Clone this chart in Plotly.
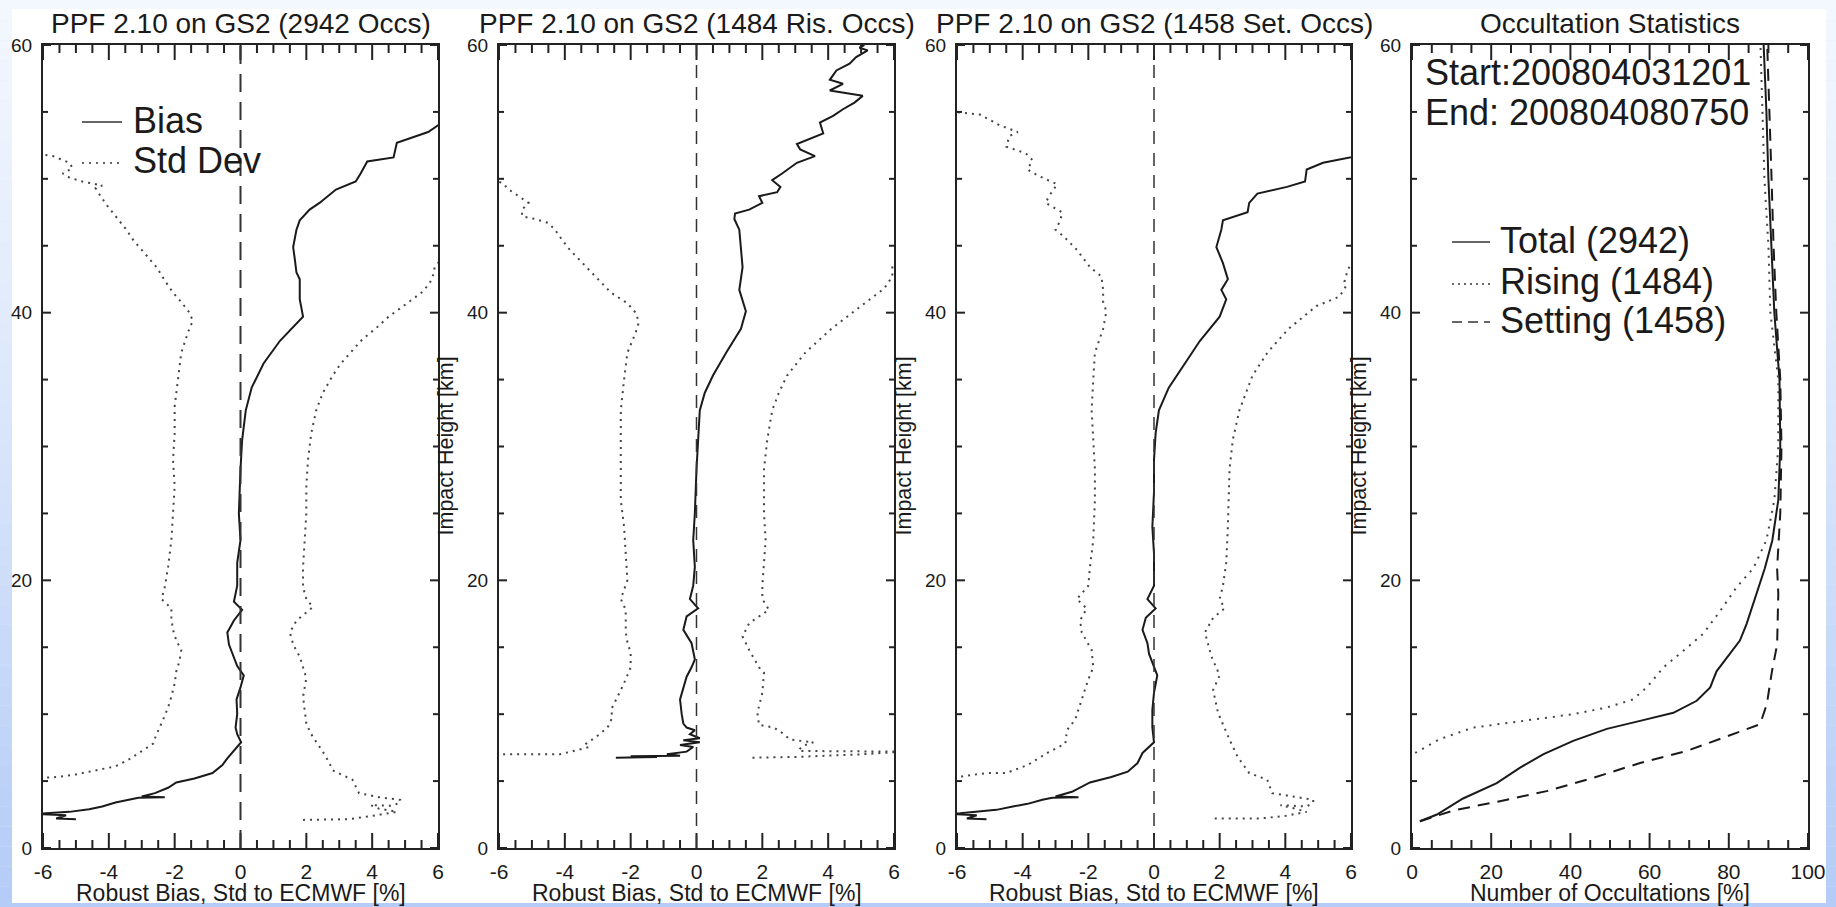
import plotly.graph_objects as go

# ---------------- data ----------------
# Panel 1: all occultations
h_bias_all = [2.15, 2.2, 2.45, 2.55, 2.6, 2.7, 2.9, 3.1, 3.4, 3.6, 3.75, 3.8, 3.85, 4.1, 4.5, 4.9, 5.2, 5.6, 6.2, 6.7, 7.2, 7.9, 8.5, 9.0, 10.0, 11.1, 12.0, 12.9, 13.6, 14.3, 15.2, 16.1, 17.0, 17.8, 18.4, 19.6, 21.3, 23.0, 25.0, 28.3, 30.5, 32.7, 34.4, 36.2, 37.9, 39.7, 40.5, 41.0, 42.5, 43.0, 44.0, 44.9, 46.2, 46.9, 47.7, 48.2, 49.2, 49.8, 50.4, 51.3, 51.6, 52.2, 52.7, 53.5, 54.0, 54.3]
bias_all = [-5.0, -5.6, -5.3, -6.2, -5.9, -5.2, -4.6, -4.2, -3.8, -3.4, -3.1, -2.3, -3.0, -2.6, -2.2, -1.95, -1.4, -0.85, -0.55, -0.4, -0.22, 0.02, -0.1, -0.15, -0.1, -0.12, 0.0, 0.1, -0.1, -0.2, -0.35, -0.4, -0.2, 0.05, -0.2, -0.1, -0.1, 0.0, -0.05, 0.0, 0.05, 0.16, 0.34, 0.7, 1.2, 1.9, 1.85, 1.8, 1.8, 1.7, 1.65, 1.6, 1.7, 1.8, 2.1, 2.4, 2.9, 3.5, 3.65, 3.85, 4.65, 4.7, 4.75, 5.7, 6.0, 6.3]
h_sdlo_all = [5.2, 5.3, 5.5, 5.7, 6.1, 6.6, 7.0, 7.5, 7.8, 8.2, 9.0, 9.6, 10.5, 11.3, 12.3, 13.2, 14.0, 14.8, 15.5, 16.3, 17.1, 17.9, 18.6, 19.5, 21.0, 23.0, 25.0, 27.0, 29.0, 31.0, 33.0, 35.0, 37.0, 38.5, 39.4, 40.0, 40.8, 41.5, 42.4, 43.4, 44.4, 45.4, 46.3, 47.2, 48.0, 48.7, 49.3, 49.5, 49.8, 50.1, 50.4, 50.8, 51.2, 51.7, 51.8, 51.9]
sdlo_all = [-6.3, -5.6, -5.0, -4.6, -3.8, -3.4, -3.15, -2.8, -2.65, -2.6, -2.45, -2.35, -2.2, -2.1, -2.0, -1.95, -1.85, -1.8, -1.95, -2.05, -2.1, -2.1, -2.4, -2.3, -2.2, -2.1, -2.05, -2.0, -2.05, -2.0, -2.0, -1.9, -1.8, -1.6, -1.45, -1.55, -1.8, -2.05, -2.3, -2.55, -2.9, -3.25, -3.5, -3.8, -4.05, -4.25, -4.4, -4.2, -4.8, -5.2, -5.4, -5.1, -5.2, -5.7, -6.0, -6.3]
h_sdhi_all = [2.1, 2.1, 2.15, 2.4, 2.7, 2.95, 3.2, 3.15, 3.4, 3.6, 3.8, 4.1, 4.6, 5.1, 5.8, 6.35, 7.0, 7.55, 8.5, 9.3, 10.3, 11.3, 12.7, 13.5, 14.3, 15.2, 16.1, 17.0, 18.0, 18.6, 19.5, 21.0, 23.0, 25.0, 27.0, 29.0, 31.0, 32.7, 34.0, 35.3, 36.2, 37.0, 38.0, 38.8, 39.7, 40.5, 41.5, 42.2, 42.8, 43.4, 44.0]
sdhi_all = [1.9, 2.6, 3.3, 4.0, 4.75, 4.2, 3.95, 4.6, 4.85, 4.85, 4.2, 3.6, 3.5, 3.4, 2.8, 2.7, 2.55, 2.4, 2.15, 2.0, 1.95, 1.9, 2.0, 1.9, 1.8, 1.6, 1.5, 1.7, 2.2, 2.0, 1.9, 1.9, 1.95, 2.0, 2.0, 2.05, 2.15, 2.3, 2.5, 2.8, 3.05, 3.35, 3.7, 4.1, 4.5, 4.95, 5.5, 5.75, 5.85, 5.9, 6.1]

# Panel 2: rising occultations
h_bias_ris = [6.75, 6.8, 6.85, 6.9, 7.0, 7.2, 7.55, 7.7, 7.9, 8.05, 8.2, 8.5, 8.8, 9.0, 9.3, 10.0, 11.1, 12.0, 12.8, 13.5, 14.1, 14.7, 15.3, 16.3, 17.3, 17.9, 18.6, 19.6, 21.0, 23.0, 25.0, 28.3, 30.5, 32.7, 34.0, 35.3, 37.0, 38.8, 40.1, 41.7, 43.4, 45.0, 46.2, 47.0, 47.4, 47.7, 48.2, 48.7, 49.0, 49.4, 49.9, 50.4, 51.2, 51.7, 52.2, 52.6, 53.4, 54.2, 54.7, 55.2, 55.7, 56.2, 56.6, 57.1, 57.4, 58.1, 58.6, 59.1, 59.6, 59.8, 60.0]
bias_ris = [-2.45, -1.2, -2.0, -0.5, -0.9, -0.3, -0.1, -0.5, 0.1, -0.4, 0.1, -0.2, -0.05, -0.3, -0.4, -0.45, -0.5, -0.4, -0.3, -0.15, -0.05, -0.1, -0.15, -0.4, -0.3, 0.05, -0.2, -0.1, -0.05, -0.1, -0.05, 0.0, 0.05, 0.1, 0.25, 0.5, 0.9, 1.35, 1.5, 1.3, 1.4, 1.35, 1.3, 1.15, 1.17, 1.6, 2.0, 1.9, 2.45, 2.55, 2.3, 2.6, 3.05, 3.6, 3.15, 3.05, 3.85, 3.75, 4.15, 4.45, 4.8, 5.05, 4.05, 4.45, 4.05, 4.25, 4.65, 4.85, 5.2, 4.95, 5.1]
h_sdlo_ris = [7.0, 7.0, 7.15, 7.3, 7.55, 7.8, 8.3, 9.0, 9.8, 10.3, 11.0, 11.8, 12.6, 13.5, 14.6, 15.4, 16.1, 17.0, 17.8, 18.6, 20.0, 22.0, 24.0, 26.0, 28.3, 30.5, 32.7, 35.0, 37.0, 38.5, 39.3, 40.0, 40.7, 41.5, 42.5, 43.4, 44.7, 45.5, 46.2, 46.7, 47.0, 47.2, 47.7, 48.2, 48.7, 49.2, 49.7, 49.9]
sdlo_ris = [-6.3, -4.15, -3.9, -3.65, -3.25, -3.35, -3.05, -2.7, -2.55, -2.6, -2.45, -2.3, -2.15, -2.0, -2.0, -2.1, -2.15, -2.15, -2.15, -2.3, -2.1, -2.15, -2.2, -2.3, -2.3, -2.3, -2.3, -2.2, -2.1, -1.85, -1.75, -1.85, -2.1, -2.6, -3.0, -3.35, -3.85, -4.1, -4.3, -4.5, -4.9, -5.3, -5.3, -5.1, -5.4, -5.7, -5.9, -6.2]
h_sdhi_ris = [6.75, 6.8, 7.0, 7.15, 7.2, 7.25, 7.6, 7.9, 8.1, 8.6, 9.0, 9.2, 10.1, 11.6, 13.1, 13.5, 14.8, 15.8, 16.8, 17.8, 18.6, 19.6, 21.0, 23.0, 25.0, 28.3, 30.5, 32.7, 34.0, 35.3, 37.0, 38.8, 40.5, 41.8, 42.7, 43.4, 44.0]
sdhi_ris = [1.7, 3.0, 5.0, 6.3, 6.3, 3.1, 3.2, 3.55, 2.85, 2.6, 2.35, 1.9, 1.85, 2.0, 2.05, 1.9, 1.6, 1.4, 1.6, 2.2, 2.0, 2.0, 2.05, 2.1, 2.05, 2.05, 2.15, 2.3, 2.5, 2.75, 3.3, 4.1, 5.0, 5.7, 5.95, 5.95, 6.1]

# Panel 3: setting occultations
h_bias_set = [2.15, 2.2, 2.45, 2.55, 2.6, 2.85, 3.1, 3.3, 3.6, 3.75, 3.8, 3.85, 4.2, 4.9, 5.3, 5.7, 6.35, 7.1, 7.9, 9.0, 10.3, 11.6, 12.9, 13.8, 14.5, 15.3, 16.3, 17.2, 17.9, 18.6, 19.6, 22.0, 24.0, 26.6, 29.0, 31.0, 32.7, 34.4, 36.2, 37.9, 39.7, 41.0, 41.7, 42.5, 43.7, 44.9, 46.2, 46.9, 47.5, 48.2, 48.9, 49.4, 49.8, 50.7, 51.2, 51.6, 51.8]
bias_set = [-5.1, -5.7, -5.4, -6.2, -5.9, -4.8, -4.3, -3.85, -3.4, -3.1, -2.3, -3.0, -2.5, -1.95, -1.3, -0.8, -0.5, -0.35, 0.0, -0.05, -0.05, 0.0, 0.1, -0.05, -0.15, -0.2, -0.35, -0.25, 0.05, -0.2, 0.0, 0.0, -0.05, 0.0, 0.0, 0.05, 0.15, 0.45, 0.95, 1.4, 2.0, 2.2, 2.05, 2.25, 2.1, 1.9, 2.05, 2.1, 2.85, 2.9, 3.15, 4.05, 4.6, 4.65, 5.15, 6.0, 6.4]
h_sdlo_set = [5.3, 5.35, 5.6, 5.6, 6.2, 7.1, 7.8, 8.8, 9.6, 11.1, 12.6, 13.5, 14.8, 16.1, 17.0, 17.9, 18.6, 19.6, 21.0, 23.0, 26.0, 28.3, 30.5, 32.7, 35.0, 37.0, 38.8, 40.1, 40.8, 41.7, 42.7, 43.4, 44.7, 45.7, 46.2, 46.9, 47.5, 48.2, 48.7, 49.6, 50.2, 50.7, 51.4, 51.9, 52.4, 53.2, 53.5, 54.0, 54.8, 55.0, 55.05]
sdlo_set = [-6.3, -5.85, -5.1, -4.5, -3.85, -3.25, -2.7, -2.65, -2.4, -2.2, -2.0, -1.85, -1.9, -2.2, -2.25, -2.05, -2.35, -2.0, -1.95, -1.85, -1.8, -1.8, -1.85, -1.9, -1.85, -1.8, -1.55, -1.45, -1.55, -1.55, -1.6, -1.95, -2.35, -2.75, -3.0, -2.85, -2.8, -3.3, -3.2, -2.95, -3.5, -3.85, -3.7, -3.9, -4.5, -4.4, -4.15, -4.7, -5.3, -6.0, -6.3]
h_sdhi_set = [2.2, 2.2, 2.4, 2.7, 3.0, 3.2, 3.1, 3.4, 3.6, 4.1, 5.1, 5.6, 6.8, 8.1, 10.1, 11.8, 12.9, 14.3, 16.1, 17.2, 17.9, 18.6, 19.6, 21.3, 24.0, 28.3, 30.5, 32.7, 35.3, 37.0, 38.8, 40.5, 41.2, 42.0, 42.3, 43.2, 44.0]
sdhi_set = [1.85, 3.2, 4.0, 4.65, 4.2, 3.85, 4.65, 4.85, 4.85, 3.6, 3.45, 2.9, 2.55, 2.3, 1.95, 1.8, 2.0, 1.75, 1.55, 1.8, 2.15, 2.0, 2.1, 2.2, 2.25, 2.3, 2.4, 2.6, 3.0, 3.45, 4.1, 4.95, 5.65, 5.85, 5.8, 5.9, 6.1]

# Panel 4: occultation statistics (% of occultations reaching each height)
h_total = [2.0, 2.5, 3.7, 4.85, 6.0, 7.0, 8.0, 8.9, 9.5, 10.1, 11.0, 12.0, 13.2, 14.5, 15.5, 16.75, 18.7, 20.2, 20.9, 23.0, 26.0, 30.0, 35.0, 40.0, 45.0, 50.0, 55.0, 60.0]
total_pct = [2.0, 6.3, 12.9, 21.4, 27.3, 33.1, 40.7, 49.2, 57.6, 66.0, 71.9, 75.3, 76.9, 80.3, 82.8, 84.5, 86.6, 88.3, 89.1, 91.0, 92.5, 93.0, 92.8, 91.5, 90.8, 90.0, 89.5, 88.8]
h_rising = [7.1, 8.15, 9.0, 9.35, 9.7, 10.0, 10.5, 11.1, 12.0, 13.5, 14.7, 16.0, 17.7, 19.5, 20.9, 23.0, 26.0, 30.0, 35.0, 40.0, 45.0, 50.0, 55.0, 60.0]
rising_pct = [0.8, 7.1, 15.5, 23.9, 32.3, 40.7, 49.2, 55.8, 59.3, 63.5, 68.4, 73.5, 77.8, 82.0, 86.2, 89.5, 91.5, 92.5, 92.5, 90.5, 90.0, 89.0, 88.5, 88.0]
h_setting = [2.0, 2.8, 3.5, 4.25, 5.25, 6.35, 7.25, 8.4, 9.25, 10.75, 13.2, 15.2, 19.0, 20.9, 25.0, 30.0, 35.0, 40.0, 45.0, 50.0, 55.0, 60.0]
setting_pct = [2.0, 10.4, 22.2, 34.0, 45.8, 57.6, 69.4, 80.3, 87.9, 89.6, 90.9, 92.2, 92.5, 92.2, 93.0, 93.3, 93.0, 92.0, 91.3, 90.8, 90.2, 89.7]

# tick labels
bias_ticks = [-6, -4, -2, 0, 2, 4, 6]
bias_ticktext = ["-6", "-4", "-2", "0", "2", "4", "6"]
pct_ticks = [0, 20, 40, 60, 80, 100]
height_ticks = [0, 20, 40, 60]

titles = ["PPF 2.10 on GS2 (2942 Occs)", "PPF 2.10 on GS2 (1484 Ris. Occs)",
          "PPF 2.10 on GS2 (1458 Set. Occs)", "Occultation Statistics"]
xtitles = ["Robust Bias, Std to ECMWF [%]"] * 3 + ["Number of Occultations [%]"]
ytitle = "Impact Height [km]"
legend_bias = ["Bias", "Std Dev"]
legend_stats = ["Total (2942)", "Rising (1484)", "Setting (1458)"]
period = ["Start:200804031201", "End: 200804080750"]

# ---------------- layout helpers ----------------
W, H = 1836, 907
FONT = "Liberation Sans"
INK = "#1a1a1a"
AXC = "#222"
def px(x): return x / W
def py(y): return 1 - y / H

panels = [(43, 438), (499, 894), (957, 1351), (1412, 1808)]
TOP, BOT = 45, 848
PH = BOT - TOP

fig = go.Figure()

profiles = [
    (h_bias_all, bias_all, h_sdlo_all, sdlo_all, h_sdhi_all, sdhi_all),
    (h_bias_ris, bias_ris, h_sdlo_ris, sdlo_ris, h_sdhi_ris, sdhi_ris),
    (h_bias_set, bias_set, h_sdlo_set, sdlo_set, h_sdhi_set, sdhi_set),
]
DOT = "2px,5px"
for i, (hb, b, hl, lo, hh, hi) in enumerate(profiles):
    ax = "" if i == 0 else str(i + 1)
    fig.add_trace(go.Scatter(x=lo, y=hl, mode="lines", xaxis="x" + ax, yaxis="y" + ax,
                             line=dict(color="#444", width=2, dash=DOT), showlegend=False))
    fig.add_trace(go.Scatter(x=hi, y=hh, mode="lines", xaxis="x" + ax, yaxis="y" + ax,
                             line=dict(color="#444", width=2, dash=DOT), showlegend=False))
    fig.add_trace(go.Scatter(x=b, y=hb, mode="lines", xaxis="x" + ax, yaxis="y" + ax,
                             line=dict(color=INK, width=2), showlegend=False))

fig.add_trace(go.Scatter(x=total_pct, y=h_total, mode="lines", xaxis="x4", yaxis="y4",
                         line=dict(color=INK, width=2), showlegend=False))
fig.add_trace(go.Scatter(x=rising_pct, y=h_rising, mode="lines", xaxis="x4", yaxis="y4",
                         line=dict(color="#444", width=2, dash="2px,6px"), showlegend=False))
fig.add_trace(go.Scatter(x=setting_pct, y=h_setting, mode="lines", xaxis="x4", yaxis="y4",
                         line=dict(color=INK, width=2, dash="12px,8px"), showlegend=False))

layout = {}
shapes = []
for i, (l, r) in enumerate(panels):
    sfx = "" if i == 0 else str(i + 1)
    if i < 3:
        xr, xv, xt, xm = [-6, 6], bias_ticks, bias_ticktext, 0.5
    else:
        xr, xv, xt, xm = [0, 100], pct_ticks, [str(v) for v in pct_ticks], 5
    layout["xaxis" + sfx] = dict(showline=True, linecolor=AXC, linewidth=2, mirror=True, ticks="",
                                 showgrid=False, zeroline=False, domain=[px(l), px(r)], range=xr,
                                 tickmode="array", tickvals=xv, ticktext=xt, anchor="y" + sfx,
                                 ticklabelstandoff=4, tickfont=dict(family=FONT, size=21, color=INK))
    layout["yaxis" + sfx] = dict(showline=True, linecolor=AXC, linewidth=2, mirror=True, ticks="",
                                 showgrid=False, zeroline=False, domain=[py(BOT), py(TOP)], range=[0, 60],
                                 tickmode="array", tickvals=height_ticks,
                                 ticktext=[str(v) for v in height_ticks], anchor="x" + sfx,
                                 ticklabelstandoff=5, tickfont=dict(family=FONT, size=19, color=INK))
    # inward tick marks on all four sides (IDL style), placed through the axis scales
    pw = r - l
    nx = int(round((xr[1] - xr[0]) / xm))
    for k in range(nx + 1):
        v = xr[0] + k * xm
        major = any(abs(v - t) < 1e-9 for t in xv)
        ln = (15 if major else 8) / PH
        for y0, y1 in [(0, ln), (1, 1 - ln)]:
            shapes.append(dict(type="line", xref="x" + sfx, yref="y" + sfx + " domain",
                               x0=v, x1=v, y0=y0, y1=y1, line=dict(color=AXC, width=2)))
    for k in range(13):
        v = k * 5
        major = v in height_ticks
        ln = (8 if major else 5) / pw
        for x0, x1 in [(0, ln), (1, 1 - ln)]:
            shapes.append(dict(type="line", xref="x" + sfx + " domain", yref="y" + sfx,
                               x0=x0, x1=x1, y0=v, y1=v, line=dict(color=AXC, width=2)))

annotations = []
for i, (l, r) in enumerate(panels):
    cx = (l + r) / 2
    annotations.append(dict(text=titles[i], x=px(cx), y=py(23), xref="paper", yref="paper",
                            showarrow=False, xanchor="center", yanchor="middle",
                            font=dict(family=FONT, size=28, color=INK)))
    annotations.append(dict(text=xtitles[i], x=px(cx), y=py(893), xref="paper", yref="paper",
                            showarrow=False, xanchor="center", yanchor="middle",
                            font=dict(family=FONT, size=23, color=INK)))
    if i > 0:
        annotations.append(dict(text=ytitle, x=px(l - 54), y=py((TOP + BOT) / 2), xref="paper", yref="paper",
                                showarrow=False, xanchor="center", yanchor="middle", textangle=-90,
                                font=dict(family=FONT, size=21.5, color=INK)))

# legend of panel 1
for txt, yy, dash in [(legend_bias[0], 122, "solid"), (legend_bias[1], 163, DOT)]:
    shapes.append(dict(type="line", xref="paper", yref="paper", x0=px(82), x1=px(122), y0=py(yy), y1=py(yy),
                       line=dict(color="#333", width=1.5, dash=dash)))
    annotations.append(dict(text=txt, x=px(131), y=py(yy - 2), xref="paper", yref="paper", showarrow=False,
                            xanchor="left", yanchor="middle", font=dict(family=FONT, size=36, color=INK)))

# panel 4 texts
for txt, yy in zip(period, [72, 112]):
    annotations.append(dict(text=txt, x=px(1423), y=py(yy), xref="paper", yref="paper", showarrow=False,
                            xanchor="left", yanchor="middle", font=dict(family=FONT, size=36, color=INK)))
for txt, yy, dash in zip(legend_stats, [242, 284, 322], ["solid", "2px,4px", "10px,6px"]):
    shapes.append(dict(type="line", xref="paper", yref="paper", x0=px(1452), x1=px(1490), y0=py(yy), y1=py(yy),
                       line=dict(color="#333", width=1.5, dash=dash)))
    annotations.append(dict(text=txt, x=px(1498), y=py(yy - 2), xref="paper", yref="paper", showarrow=False,
                            xanchor="left", yanchor="middle", font=dict(family=FONT, size=36, color=INK)))

# zero reference lines in the profile panels
for sfx in ["", "2", "3"]:
    shapes.append(dict(type="line", xref="x" + sfx, yref="y" + sfx + " domain", x0=0, x1=0, y0=0, y1=1,
                       line=dict(color="#333", width=2 if sfx == "" else 1.5,
                                 dash="18px,10px" if sfx == "" else "13px,9px")))

# background: blue vertical gradient frame + white canvas
bg = []
N = 45
for k in range(N):
    t = k / (N - 1)
    c = (int(243 - 63 * t ** 1.2), int(247 - 43 * t ** 1.2), int(254 - 7 * t ** 1.2))
    bg.append(dict(type="rect", xref="paper", yref="paper", x0=0, x1=1,
                   y0=1 - (k + 1) / N, y1=1 - k / N, layer="below",
                   fillcolor="rgb(%d,%d,%d)" % c, line=dict(width=0)))
bg.append(dict(type="rect", xref="paper", yref="paper", x0=px(12), x1=px(1826), y0=py(903), y1=py(9),
               layer="below", fillcolor="white", line=dict(width=0)))

fig.update_layout(template="none", width=W, height=H, margin=dict(l=0, r=0, t=0, b=0, autoexpand=False),
                  paper_bgcolor="rgb(220,232,252)", plot_bgcolor="rgba(0,0,0,0)",
                  annotations=annotations, shapes=bg + shapes, showlegend=False, **layout)

fig.write_html("out.html", config={"displayModeBar": False, "staticPlot": True},
               post_script="document.body.style.margin='0px';")
